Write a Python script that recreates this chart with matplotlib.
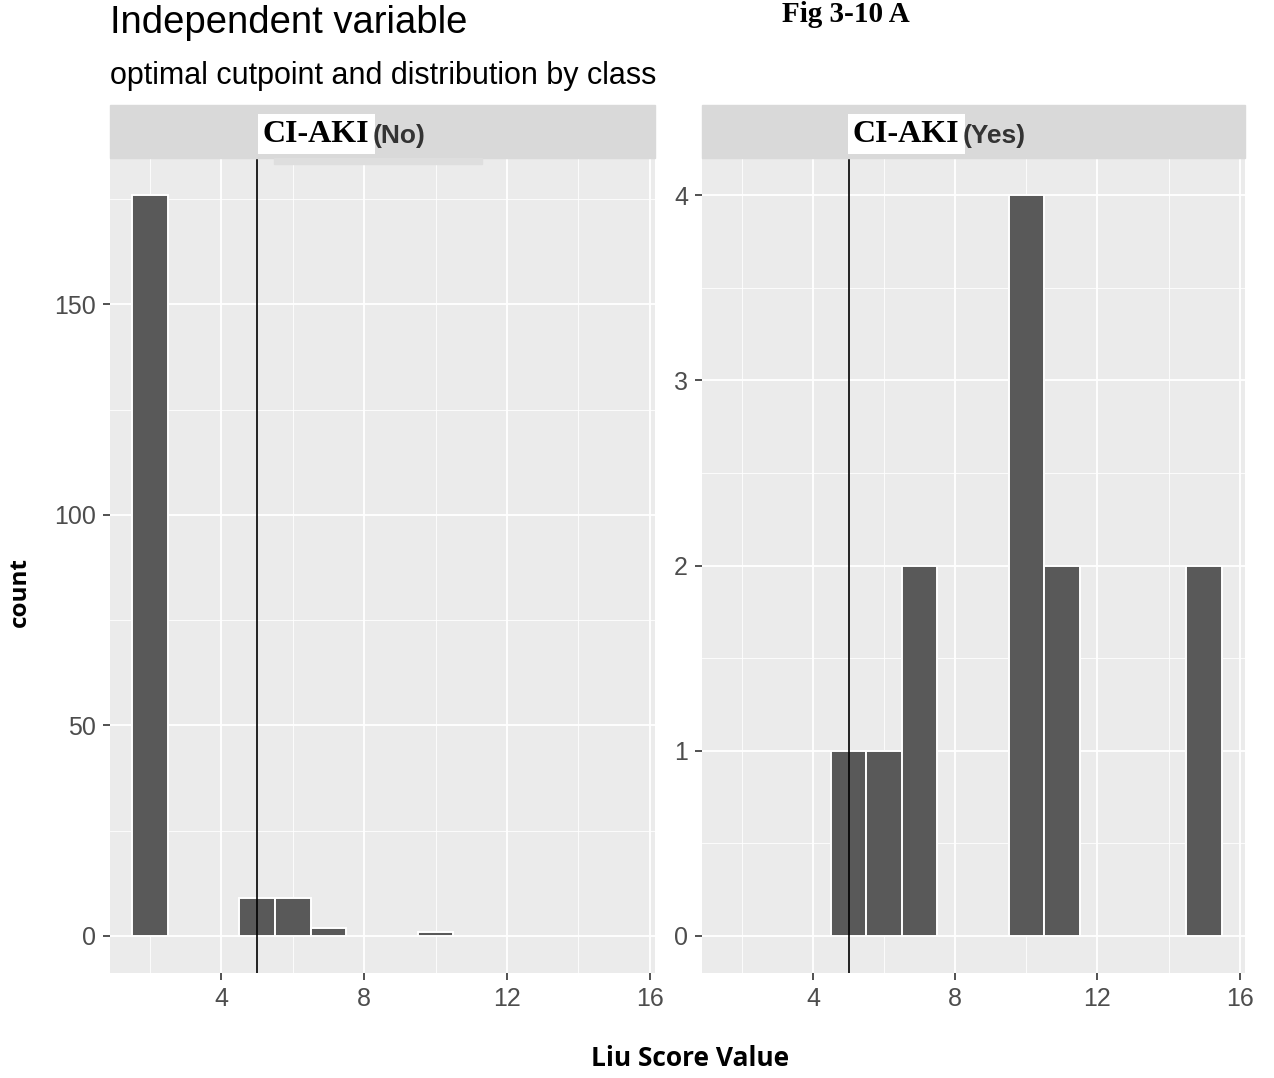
import matplotlib.pyplot as plt
from matplotlib.patches import Rectangle
from matplotlib.ticker import MultipleLocator

# Liu score histogram by CI-AKI class
no_scores = [2, 5, 6, 7, 10]
no_counts = [176, 9, 9, 2, 1]
yes_scores = [5, 6, 7, 10, 11, 15]
yes_counts = [1, 1, 2, 4, 2, 2]
cutpoint = 5
x_ticks = [4, 8, 12, 16]

W, H = 1274, 1078
BG = "#EBEBEB"
BAR = "#595959"
TXT = "#4D4D4D"
SANS = ["Liberation Sans", "DejaVu Sans"]


def px(x, y):
    return x / W, 1 - y / H


def style_panel(ax, major, minor, ylim):
    ax.set_facecolor(BG)
    for s in ax.spines.values():
        s.set_visible(False)
    ax.set_xlim(0.88, 16.15)
    ax.set_ylim(*ylim)
    ax.set_xticks(x_ticks)
    ax.xaxis.set_minor_locator(MultipleLocator(2))
    ax.yaxis.set_major_locator(MultipleLocator(major))
    ax.yaxis.set_minor_locator(MultipleLocator(minor))
    ax.grid(which="major", color="white", lw=1.3)
    ax.grid(which="minor", color="white", lw=0.6)
    ax.set_axisbelow(True)
    ax.tick_params(which="major", length=5, width=1.2, color="#333333",
                   labelsize=18, labelcolor=TXT, pad=5)
    ax.tick_params(which="minor", length=0)
    for lab in ax.get_xticklabels() + ax.get_yticklabels():
        lab.set_family(SANS)


def strip(x0, x1, label, sub, lab_x):
    fig.patches.append(Rectangle(px(x0, 158), (x1 - x0) / W, 53 / H,
                                 transform=fig.transFigure, color="#D9D9D9",
                                 zorder=0))
    t = fig.text(*px(lab_x, 134), label, family=["Liberation Serif"],
                 fontweight="bold", fontsize=23, va="center", ha="left",
                 bbox=dict(facecolor="white", edgecolor="none", pad=4))
    fig.canvas.draw()
    bb = t.get_window_extent()
    fig.text(bb.x1 / W + 3 / W, px(0, 136)[1], sub, family=SANS,
             fontsize=19, fontweight="bold", color="#333333", va="center",
             ha="left")


fig = plt.figure(figsize=(W / 100, H / 100), dpi=100)
ax1 = fig.add_axes([110 / W, 1 - 973 / H, 545 / W, 815 / H])
ax2 = fig.add_axes([702 / W, 1 - 973 / H, 543 / W, 815 / H])

style_panel(ax1, 50, 25, (-8.8, 184.8))
style_panel(ax2, 1, 0.5, (-0.2, 4.2))

ax1.bar(no_scores, no_counts, width=1, color=BAR, edgecolor="white", lw=1.4)
ax2.bar(yes_scores, yes_counts, width=1, color=BAR, edgecolor="white", lw=1.4)
ax1.axvline(cutpoint, color="black", lw=1.2)
ax2.axvline(cutpoint, color="black", lw=1.2)

strip(110, 655, "CI-AKI", "(No)", 263)
strip(702, 1245, "CI-AKI", "(Yes)", 853)
fig.patches.append(Rectangle(px(274, 164), 208 / W, 6 / H,
                             transform=fig.transFigure, color="#DEDEDE",
                             zorder=1))

fig.text(*px(110, 23), "Independent variable", family=SANS, fontsize=27.5,
         va="center", ha="left", color="black")
fig.text(*px(110, 76), "optimal cutpoint and distribution by class",
         family=SANS, fontsize=22, va="center", ha="left", color="black")
fig.text(*px(846, 1), "Fig 3-10 A", family=["Liberation Serif"],
         fontweight="bold", fontsize=21, va="top", ha="center")

fig.text(*px(20, 592), "count", family=["Open Sans", "DejaVu Sans"],
         fontweight="bold", fontsize=17.5, rotation=90, va="center",
         ha="center")
fig.text(*px(690, 1058), "Liu Score Value", family=["Open Sans", "DejaVu Sans"],
         fontweight="bold", fontsize=19, va="center", ha="center")

fig.savefig("out.png", dpi=100, facecolor="white")
